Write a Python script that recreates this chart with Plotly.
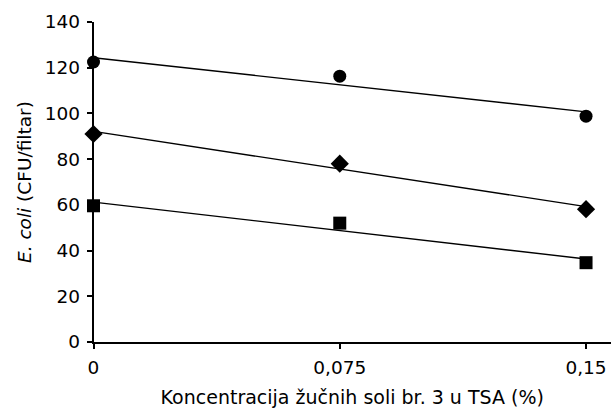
import numpy as np
import plotly.graph_objects as go

conc = [0, 0.075, 0.15]
tick_labels = ["0", "0,075", "0,15"]
y_ticks = [0, 20, 40, 60, 80, 100, 120, 140]
series_circle = [122.5, 116.3, 98.8]
series_diamond = [91.0, 78.0, 58.1]
series_square = [59.6, 52.0, 34.7]

FONT = "DejaVu Sans, Liberation Sans, Arial, sans-serif"

fig = go.Figure()

def add_series(yvals, symbol, size):
    x = np.array(conc)
    y = np.array(yvals)
    k, b = np.polyfit(x, y, 1)
    xl = [float(x.min()), float(x.max())]
    fig.add_trace(go.Scatter(x=xl, y=[k * v + b for v in xl], mode="lines",
                             line=dict(color="black", width=1.4),
                             showlegend=False, hoverinfo="skip", cliponaxis=False))
    fig.add_trace(go.Scatter(x=conc, y=yvals, mode="markers",
                             marker=dict(symbol=symbol, size=size, color="black"),
                             showlegend=False, cliponaxis=False))

add_series(series_circle, "circle", 13)
add_series(series_diamond, "diamond", 14)
add_series(series_square, "square", 13)

W, H = 611, 412
L, R, T, B = 80, 0, 22, 70          # paper area; y tick labels sit at its left edge
AXIS_X = 93.5                         # page x of the visible y axis line
PW = W - L - R
dom0 = (AXIS_X - L) / PW

fig.update_layout(
    width=W, height=H,
    margin=dict(l=L, r=R, t=T, b=B),
    paper_bgcolor="white", plot_bgcolor="white",
    font=dict(family=FONT, size=18, color="black"),
    xaxis=dict(
        domain=[dom0, 1],
        range=[0, 0.1576], tickvals=conc, ticktext=tick_labels,
        showline=True, linecolor="black", linewidth=1.5,
        ticks="outside", ticklen=5, tickwidth=1.5, tickcolor="black",
        showgrid=False, zeroline=False,
        tickfont=dict(size=18.5), ticklabelstandoff=3,
        title=dict(text="Koncentracija žučnih soli br. 3 u TSA (%)",
                   font=dict(size=19), standoff=14),
        automargin=False,
    ),
    # labels-only y axis, placed left of the visible axis line
    yaxis=dict(
        range=[0, 140], tickvals=y_ticks,
        anchor="free", position=0,
        showline=False, ticks="", showgrid=False, zeroline=False,
        tickfont=dict(size=18.5),
        automargin=False,
    ),
    # visible y axis line and tick marks
    yaxis2=dict(
        range=[0, 140], tickvals=y_ticks, overlaying="y", anchor="x", side="left",
        showticklabels=False,
        showline=True, linecolor="black", linewidth=1.5,
        ticks="outside", ticklen=5, tickwidth=1.5, tickcolor="black",
        showgrid=False, zeroline=False,
        automargin=False,
    ),
    annotations=[dict(
        text="<i>E. coli</i> (CFU/filtar)", textangle=-90,
        xref="paper", yref="paper",
        x=(24 - L) / PW, y=0.5,
        xanchor="center", yanchor="middle", showarrow=False,
        font=dict(size=18.5),
    )],
)
# a dummy invisible trace so yaxis2 is drawn
fig.add_trace(go.Scatter(x=[], y=[], yaxis="y2", showlegend=False))

fig.write_html(
    "out.html",
    config={"displayModeBar": False},
    post_script="document.body.style.margin='0';document.body.style.overflow='hidden';",
)
